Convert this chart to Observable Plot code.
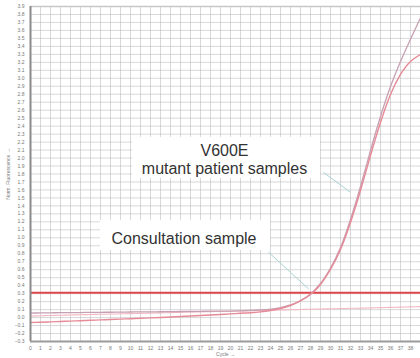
<!DOCTYPE html>
<html><head><meta charset="utf-8">
<script src="https://cdn.jsdelivr.net/npm/d3@7"></script>
<script src="https://cdn.jsdelivr.net/npm/@observablehq/plot@0.6"></script>
<style>body{margin:0;background:#fff;overflow:hidden}</style>
</head><body><div id="chart"></div>
<script>
const cycles = d3.range(0, 40);
const mutantA = [-0.062,-0.058,-0.054,-0.049,-0.044,-0.039,-0.034,-0.029,-0.024,-0.019,
  -0.014,-0.009,-0.004,0.001,0.007,0.013,0.020,0.026,0.032,0.039,
  0.046,0.054,0.061,0.072,0.089,0.114,0.151,0.208,0.289,0.415,
  0.603,0.853,1.192,1.593,2.032,2.446,2.797,3.048,3.211,3.298];
const mutantB = [0.057,0.058,0.060,0.061,0.062,0.063,0.065,0.066,0.067,0.068,
  0.070,0.071,0.072,0.073,0.075,0.076,0.077,0.078,0.080,0.081,
  0.082,0.085,0.089,0.095,0.105,0.126,0.158,0.214,0.296,0.427,
  0.622,0.879,1.230,1.643,2.095,2.521,2.897,3.210,3.490,3.760];
const consultation = [0.020,0.023,0.026,0.029,0.032,0.035,0.038,0.041,0.044,0.047,
  0.050,0.053,0.056,0.059,0.062,0.065,0.068,0.071,0.074,0.077,
  0.080,0.083,0.086,0.089,0.092,0.095,0.098,0.101,0.104,0.107,
  0.110,0.113,0.116,0.119,0.122,0.125,0.128,0.131,0.134,0.137];
const threshold = 0.31;
const xTicks = d3.range(0, 39);
const gridXTicks = d3.range(0, 40);
const yTicks = d3.range(-3, 40).map(i => i / 10);
const labels = [
  {text: "V600E", x: 19.4, y: 2.09},
  {text: "mutant patient samples", x: 19.4, y: 1.86},
  {text: "Consultation sample", x: 15.35, y: 0.99}
];
const boxes = [
  {x1: 10.2, x2: 29.0, y1: 1.744, y2: 2.258},
  {x1: 7.0, x2: 24.0, y1: 0.841, y2: 1.217}
];
const leaders = [
  {x1: 29.3, y1: 1.82, x2: 32.0, y2: 1.57},
  {x1: 23.8, y1: 0.82, x2: 27.8, y2: 0.36}
];

const rowsC = cycles.map((c, i) => ({cycle: c, value: consultation[i]}));
const rowsA = cycles.map((c, i) => ({cycle: c, value: mutantA[i]}));
const rowsB = cycles.map((c, i) => ({cycle: c, value: mutantB[i]}));

const chart = Plot.plot({
  width: 420, height: 358,
  marginLeft: 30, marginRight: 0, marginTop: 6, marginBottom: 17,
  style: {fontFamily: "Liberation Sans, Arial, sans-serif", background: "#fff"},
  x: {domain: [0, 39]},
  y: {domain: [-0.3, 3.9]},
  marks: [
    Plot.gridX(gridXTicks, {stroke: "#b8b8b8", strokeOpacity: 0.55}),
    Plot.gridY(yTicks, {stroke: "#b8b8b8", strokeOpacity: 0.55}),
    Plot.rect(boxes, {x1: "x1", x2: "x2", y1: "y1", y2: "y2", fill: "#fff"}),
    Plot.ruleY([3.9], {stroke: "#c8c8c8", strokeWidth: 1.5}),
    Plot.ruleY([threshold], {stroke: "#e0474c", strokeWidth: 2}),
    Plot.line(rowsC, {x: "cycle", y: "value", stroke: "#f2b8c2", strokeWidth: 1.1, curve: "natural"}),
    Plot.line(rowsB, {x: "cycle", y: "value", stroke: "#c79fb2", strokeWidth: 1.3, curve: "natural"}),
    Plot.line(rowsA, {x: "cycle", y: "value", stroke: "#e68a97", strokeWidth: 1.4, curve: "natural"}),
    Plot.link(leaders, {x1: "x1", y1: "y1", x2: "x2", y2: "y2", stroke: "#a9d3d3", strokeWidth: 1}),
    Plot.text(labels, {x: "x", y: "y", text: "text", fontSize: 16, fill: "#333"}),
    Plot.ruleX([0], {stroke: "#8a8a8a", strokeWidth: 2}),
    Plot.ruleY([-0.3], {stroke: "#9a9a9a", strokeWidth: 2}),
    Plot.axisX(xTicks, {fontSize: 5, tickSize: 0, tickPadding: 5, fill: "#777", label: "Cycle", labelAnchor: "center", labelOffset: 14}),
    Plot.axisY(yTicks, {fontSize: 5, tickSize: 0, tickPadding: 6, fill: "#777", tickFormat: d3.format(".1f"), label: "Norm. Fluorescence", labelAnchor: "center", labelOffset: 24})
  ]
});
document.getElementById("chart").appendChild(chart);
</script>
</body></html>
